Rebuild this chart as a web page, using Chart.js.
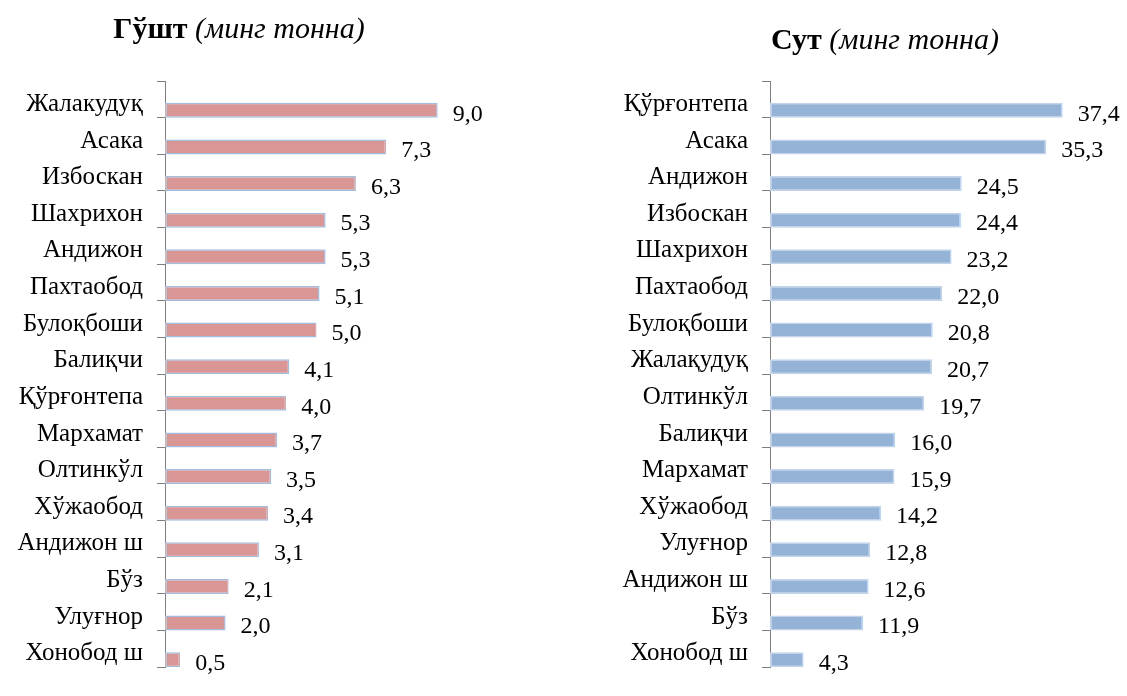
<!DOCTYPE html>
<html>
<head>
<meta charset="utf-8">
<script src="https://cdn.jsdelivr.net/npm/chart.js@4.4.1/dist/chart.umd.min.js"></script>
<style>
  body { margin: 0; background: #fff; }
  #wrap { position: relative; width: 1127px; height: 696px; overflow: hidden; }
  .panel { position: absolute; top: 0; height: 696px; }
  .title {
    position: absolute; font-family: 'Liberation Serif', 'Times New Roman', serif;
    font-size: 30px; line-height: 30px; white-space: nowrap; color: #000;
    transform: translateX(-50%);
  }
  .title b { font-weight: bold; }
  .title i { font-style: italic; }
</style>
</head>
<body>
<div id="wrap">
  <div class="panel" style="left:0;width:563px"><canvas id="meatChart"></canvas></div>
  <div class="panel" style="left:563px;width:564px"><canvas id="milkChart"></canvas></div>
  <div class="title" style="left:239px;top:13px"><b>Гўшт</b> <i>(минг тонна)</i></div>
  <div class="title" style="left:885px;top:24px"><b>Сут</b> <i>(минг тонна)</i></div>
</div>
<script>
// Гўшт (meat), thousand tonnes
const meatLabels = ['Жалакудуқ', 'Асака', 'Избоскан', 'Шахрихон', 'Андижон', 'Пахтаобод', 'Булоқбоши', 'Балиқчи',
  'Қўрғонтепа', 'Мархамат', 'Олтинкўл', 'Хўжаобод', 'Андижон ш', 'Бўз', 'Улуғнор', 'Хонобод ш'];
const meatValues = [9.0, 7.3, 6.3, 5.3, 5.3, 5.1, 5.0, 4.1, 4.0, 3.7, 3.5, 3.4, 3.1, 2.1, 2.0, 0.5];

// Сут (milk), thousand tonnes
const milkLabels = ['Қўрғонтепа', 'Асака', 'Андижон', 'Избоскан', 'Шахрихон', 'Пахтаобод', 'Булоқбоши', 'Жалақудуқ',
  'Олтинкўл', 'Балиқчи', 'Мархамат', 'Хўжаобод', 'Улуғнор', 'Андижон ш', 'Бўз', 'Хонобод ш'];
const milkValues = [37.4, 35.3, 24.5, 24.4, 23.2, 22.0, 20.8, 20.7, 19.7, 16.0, 15.9, 14.2, 12.8, 12.6, 11.9, 4.3];

const serif = "'Liberation Serif', 'Times New Roman', serif";
const axisGray = '#7f7f7f';

// value labels to the right of each bar, decimal comma
const valueLabels = {
  id: 'valueLabels',
  afterDatasetsDraw(chart) {
    const ctx = chart.ctx;
    const meta = chart.getDatasetMeta(1);
    const values = chart.data.datasets[1].data;
    ctx.save();
    ctx.font = '24px ' + serif;
    ctx.fillStyle = '#000';
    ctx.textAlign = 'left';
    ctx.textBaseline = 'middle';
    meta.data.forEach((bar, i) => {
      ctx.fillText(values[i].toFixed(1).replace('.', ','), bar.x + 15, bar.y + 4);
    });
    ctx.restore();
  }
};

function makeChart(id, labels, values, opts) {
  return new Chart(document.getElementById(id), {
    type: 'bar',
    data: {
      labels: labels,
      datasets: [
        // empty spacer series: pushes the real bars to the lower half of each row
        { data: [], backgroundColor: 'transparent' },
        {
          data: values,
          backgroundColor: opts.color,
          borderColor: opts.border,
          borderWidth: 1.5,
          borderSkipped: false
        }
      ]
    },
    options: {
      indexAxis: 'y',
      responsive: false,
      animation: false,
      datasets: { bar: { categoryPercentage: 1.2, barPercentage: 0.68 } },
      layout: { padding: { top: 81, bottom: 5, left: 0, right: opts.padRight } },
      plugins: { legend: { display: false }, tooltip: { enabled: false } },
      scales: {
        x: { display: false, min: 0, max: opts.max },
        y: {
          afterFit: (scale) => { scale.width = opts.axisWidth; },
          border: { display: true, color: axisGray, width: 1 },
          grid: { drawOnChartArea: false, drawTicks: true, tickLength: 8, color: axisGray, offset: true },
          ticks: { color: '#000', font: { family: serif, size: 25 }, padding: 14, labelOffset: 5, autoSkip: false }
        }
      }
    },
    plugins: [valueLabels]
  });
}

// canvas sizes
document.getElementById('meatChart').width = 563;
document.getElementById('meatChart').height = 696;
document.getElementById('milkChart').width = 564;
document.getElementById('milkChart').height = 696;

makeChart('meatChart', meatLabels, meatValues, { color: '#d99694', border: '#a3bde0', max: 10, axisWidth: 165, padRight: 95 });
makeChart('milkChart', milkLabels, milkValues, { color: '#95b3d7', border: '#c2d3ea', max: 40, axisWidth: 207, padRight: 44 });
</script>
</body>
</html>
